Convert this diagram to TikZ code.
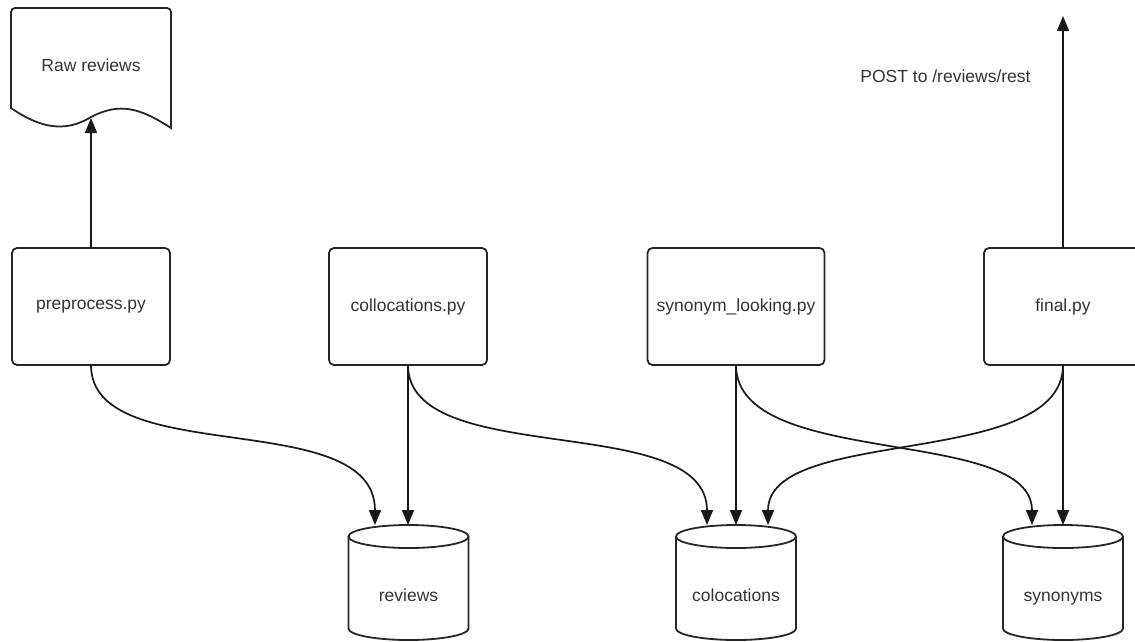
\documentclass[tikz,border=0pt]{standalone}
\usepackage{fontspec}
\setmainfont{Liberation Sans}
\usetikzlibrary{arrows.meta}
\definecolor{txt}{HTML}{333333}
\tikzset{
  x=1pt, y=1pt,
  shp/.style={draw=black!85, line width=1.8pt},
  procbox/.style={shp, rectangle, rounded corners=5pt, minimum height=117pt, inner sep=0pt, outer sep=0pt, font=\fontsize{17.5}{20}\selectfont, text=txt},
  cylbody/.style={rectangle, draw=none, minimum width=120pt, minimum height=115pt, inner sep=0pt, outer sep=0pt},
  lbl/.style={font=\fontsize{17.5}{20}\selectfont, text=txt, inner sep=0pt, text height=12.5pt, text depth=0pt},
  conn/.style={draw=black!90, line width=1.7pt, -{Triangle[length=15pt,width=12pt]}},
}
\begin{document}
\begin{tikzpicture}
\useasboundingbox (0,0) rectangle (1135,-641);
\clip (0,0) rectangle (1135,-641);

% document shape "Raw reviews"
\draw[shp, rounded corners=4pt] (11,-108) -- (11,-8) -- (171,-8) [sharp corners] -- (171,-128)
  .. controls (140,-108) and (120,-102) .. (91,-117)
  .. controls (65,-133) and (40,-128) .. (11,-108) -- cycle;
\node[lbl] (raw) at (91,-65) {Raw reviews};
\coordinate (rawtip) at (91,-118);

% process boxes
\node[procbox, minimum width=158pt] (pre) at (91,-306.5) {preprocess.py};
\node[procbox, minimum width=158pt] (col) at (408,-306.5) {collocations.py};
\node[procbox, minimum width=177pt] (syn) at (736,-306.5) {synonym\_looking.py};
\node[procbox, minimum width=158pt] (fin) at (1063,-306.5) {final.py};

% cylinders
\foreach \n/\cx/\t in {rev/408.5/reviews, coll/736/colocations, syns/1063/synonyms}{
  \node[cylbody] (\n) at (\cx,-582.5) {};
  \draw[shp] ([yshift=-11.5pt]\n.north west) -- ([yshift=11.5pt]\n.south west)
    arc[start angle=180, end angle=360, x radius=60pt, y radius=11.5pt]
    -- ([yshift=-11.5pt]\n.north east);
  \draw[shp] ([yshift=-11.5pt]\n.north) ellipse[x radius=60pt, y radius=11.5pt];
  \node[lbl] (\n l) at (\cx,-595.5) {\t};
}

% POST label and arrow
\coordinate (posttip) at (1063,-16);
\node[lbl] (post) at (945.5,-76) {POST to /reviews/rest};

% connectors
\draw[conn] (pre.north) -- (rawtip);
\draw[conn] (fin.north) -- (posttip);

\draw[conn] (pre.south) .. controls (91,-470) and (375,-405) .. ([xshift=-33.5pt]rev.north);
\draw[conn] (col.south) -- (col.south |- rev.north);

\draw[conn] (col.south) .. controls (408,-470) and (707,-410) .. ([xshift=-29pt]coll.north);
\draw[conn] (syn.south) -- (syn.south |- coll.north);
\draw[conn] (fin.south) .. controls (1063,-470) and (768,-425) .. ([xshift=32pt]coll.north);

\draw[conn] (syn.south) .. controls (736,-470) and (1032,-425) .. ([xshift=-31pt]syns.north);
\draw[conn] (fin.south) -- (fin.south |- syns.north);
\end{tikzpicture}
\end{document}
